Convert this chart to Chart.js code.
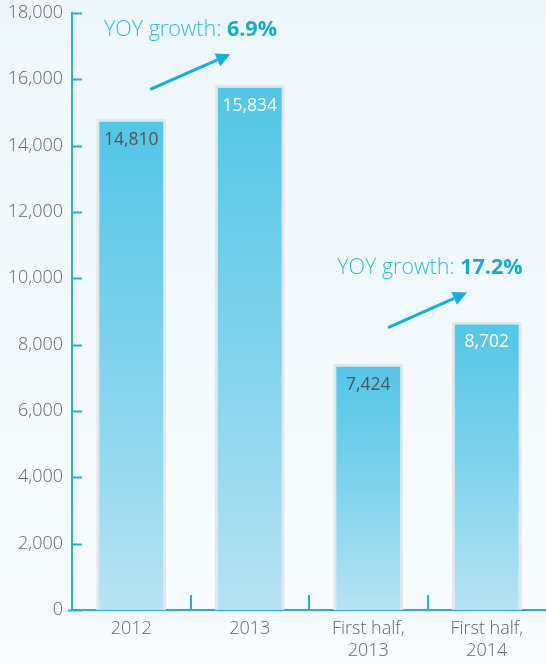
<!DOCTYPE html>
<html><head><meta charset="utf-8">
<script src="https://cdn.jsdelivr.net/npm/chart.js@4/dist/chart.umd.min.js"></script>
<style>html,body{margin:0;padding:0;background:#f3f9fc;}#wrap{width:546px;height:665px;position:relative;}</style>
</head><body><div id="wrap"><canvas id="c" width="546" height="665"></canvas></div>
<script>
const categories = [["2012"], ["2013"], ["First half,", "2013"], ["First half,", "2014"]];
const values = [14810, 15834, 7424, 8702];
const valueLabels = ["14,810", "15,834", "7,424", "8,702"];
const labelColors = ["#555555", "#ffffff", "#555555", "#ffffff"];
const yTicks = [0, 2000, 4000, 6000, 8000, 10000, 12000, 14000, 16000, 18000];
const growthNotes = [
  {text: "YOY growth: ", value: "6.9%", textAt: [0.5, 17480], from: [0.16, 15700], to: [0.835, 16755]},
  {text: "YOY growth: ", value: "17.2%", textAt: [2.52, 10310], from: [2.167, 8513], to: [2.833, 9570]}
];
const CYAN = "#1db3de";
const FONT = "'Open Sans', 'Noto Sans', sans-serif";

const bgPlugin = {
  id: 'bg',
  beforeDraw(chart) {
    const {ctx, width, height} = chart;
    const g = ctx.createLinearGradient(0, 0, 0, height);
    g.addColorStop(0, '#eef7fb');
    g.addColorStop(1, '#f8fcfe');
    ctx.save(); ctx.fillStyle = g; ctx.fillRect(0, 0, width, height); ctx.restore();
  }
};

const decoPlugin = {
  id: 'deco',
  afterDraw(chart) {
    const {ctx} = chart;
    const x = chart.scales.x, y = chart.scales.y;
    const y0 = y.getPixelForValue(0);
    ctx.save();
    ctx.strokeStyle = CYAN; ctx.lineWidth = 2;
    yTicks.forEach(v => {
      const py = Math.round(y.getPixelForValue(v)) + 0.5;
      ctx.beginPath(); ctx.moveTo(x.left, py); ctx.lineTo(x.left + 10, py); ctx.stroke();
    });
    for (let i = 0; i < categories.length - 1; i++) {
      const px = Math.round((x.getPixelForValue(i) + x.getPixelForValue(i + 1)) / 2);
      ctx.beginPath(); ctx.moveTo(px, y0); ctx.lineTo(px, y0 - 15); ctx.stroke();
    }
    ctx.beginPath(); ctx.moveTo(x.left - 4, Math.round(y0) + 0.5); ctx.lineTo(x.left, Math.round(y0) + 0.5); ctx.stroke();
    const meta = chart.getDatasetMeta(0);
    ctx.font = "17.5px " + FONT;
    ctx.textAlign = 'center'; ctx.textBaseline = 'middle';
    meta.data.forEach((bar, i) => {
      ctx.fillStyle = labelColors[i];
      ctx.fillText(valueLabels[i], bar.x, bar.y + 21);
    });
    growthNotes.forEach(n => {
      const fx = x.getPixelForValue(n.from[0]), fy = y.getPixelForValue(n.from[1]);
      const tx = x.getPixelForValue(n.to[0]), ty = y.getPixelForValue(n.to[1]);
      const ang = Math.atan2(ty - fy, tx - fx);
      const hl = 14, hw = 7;
      const bx = tx - hl * Math.cos(ang), by = ty - hl * Math.sin(ang);
      ctx.strokeStyle = '#0fb0db'; ctx.fillStyle = '#0fb0db'; ctx.lineWidth = 3;
      ctx.beginPath(); ctx.moveTo(fx, fy); ctx.lineTo(bx, by); ctx.stroke();
      ctx.beginPath(); ctx.moveTo(tx, ty);
      ctx.lineTo(bx + hw * Math.sin(ang), by - hw * Math.cos(ang));
      ctx.lineTo(bx - hw * Math.sin(ang), by + hw * Math.cos(ang));
      ctx.closePath(); ctx.fill();
      const cx = x.getPixelForValue(n.textAt[0]), cy = y.getPixelForValue(n.textAt[1]);
      ctx.font = "300 21.5px " + FONT; const w1 = ctx.measureText(n.text).width;
      ctx.font = "bold 21.5px " + FONT; const w2 = ctx.measureText(n.value).width;
      const sx = cx - (w1 + w2) / 2;
      ctx.textAlign = 'left'; ctx.textBaseline = 'middle';
      ctx.font = "300 21.5px " + FONT; ctx.fillStyle = '#2dbde3';
      ctx.fillText(n.text, sx, cy);
      ctx.font = "bold 21.5px " + FONT; ctx.fillStyle = '#12acd9';
      ctx.fillText(n.value, sx + w1, cy);
      ctx.textAlign = 'center';
    });
    ctx.restore();
  }
};

function barGradient(context) {
  const chart = context.chart;
  const y = chart.scales && chart.scales.y;
  if (!y || context.dataIndex === undefined) return '#7fd2ec';
  const top = y.getPixelForValue(values[context.dataIndex]);
  const base = y.getPixelForValue(0);
  if (!isFinite(top) || !isFinite(base)) return '#7fd2ec';
  const g = chart.ctx.createLinearGradient(0, top, 0, base);
  g.addColorStop(0, '#52c6e6');
  g.addColorStop(0.5, '#80d3ed');
  g.addColorStop(1, '#b7e3f3');
  return g;
}

new Chart(document.getElementById('c'), {
  type: 'bar',
  data: {
    labels: categories,
    datasets: [{
      data: values,
      backgroundColor: barGradient,
      borderColor: '#e2e7e9',
      borderWidth: 3,
      borderSkipped: 'bottom',
      barPercentage: 0.59,
      categoryPercentage: 1
    }]
  },
  options: {
    responsive: false,
    animation: false,
    devicePixelRatio: 1,
    layout: {padding: 0},
    plugins: {legend: {display: false}, tooltip: {enabled: false}},
    scales: {
      x: {
        grid: {display: false, drawTicks: false},
        border: {display: true, color: CYAN, width: 2},
        ticks: {color: '#666666', font: {family: FONT, size: 18, weight: '300', lineHeight: 1.22}, padding: 8, maxRotation: 0},
        afterFit(s) { s.height = 55; s.paddingLeft = 0; s.paddingRight = 0; }
      },
      y: {
        min: 0, max: 18000,
        afterBuildTicks(s) { s.ticks = yTicks.map(v => ({value: v})); },
        grid: {display: false, drawTicks: false},
        border: {display: true, color: CYAN, width: 2},
        ticks: {color: '#666666', font: {family: FONT, size: 18, weight: '300'}, padding: 9},
        afterFit(s) { s.width = 72; s.paddingTop = 13; s.paddingBottom = 0; }
      }
    }
  },
  plugins: [bgPlugin, decoPlugin]
});
</script></body></html>
